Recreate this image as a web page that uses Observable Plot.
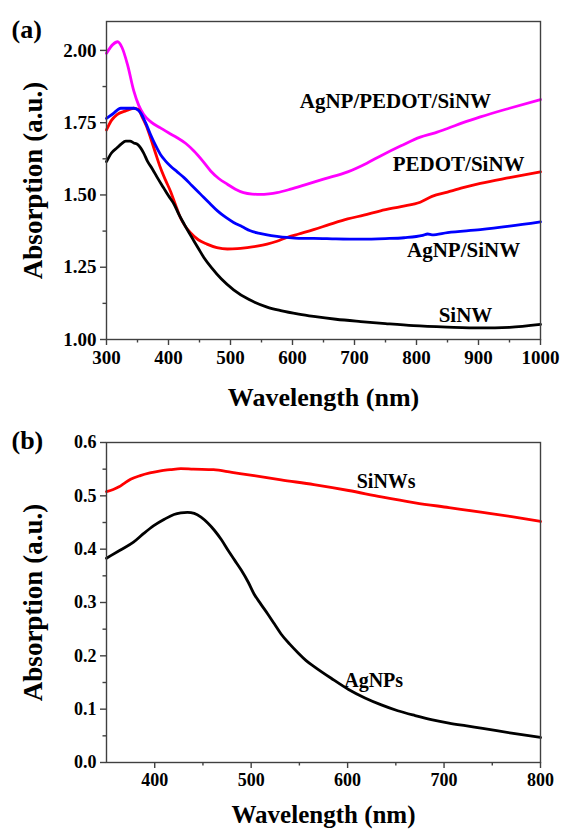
<!DOCTYPE html>
<html><head><meta charset="utf-8">
<script src="https://cdn.jsdelivr.net/npm/d3@7"></script>
<script src="https://cdn.jsdelivr.net/npm/@observablehq/plot@0.6"></script>
<style>
body{margin:0;background:#fff}
#chart{width:561px}
svg{display:block}
</style>
</head><body><div id="chart"></div>
<script>
// ---------- Panel (a) data ----------
const aMagentaX = [300,310,318,325,334,344,352,360,372,387,400,414,428,441,455,468,481,495,508,521,535,548,562,575,597,620,650,689,720,742,775,806,830,850,875,903,950,1000];
const aMagentaY = [1.99,2.02,2.03,2.01,1.95,1.86,1.81,1.778,1.752,1.732,1.715,1.698,1.678,1.652,1.618,1.583,1.557,1.537,1.52,1.508,1.503,1.502,1.504,1.508,1.52,1.535,1.555,1.58,1.61,1.635,1.67,1.70,1.715,1.73,1.75,1.77,1.80,1.83];

const aRedX = [300,308,317,330,344,352,357,364,371,379,387,395,403,411,419,427,435,448,462,478,495,511,527,543,559,575,591,610,634,660,689,715,742,775,806,825,850,875,903,950,1000];
const aRedY = [1.725,1.758,1.778,1.79,1.80,1.795,1.772,1.74,1.698,1.645,1.594,1.552,1.514,1.468,1.422,1.392,1.37,1.345,1.33,1.318,1.313,1.314,1.318,1.323,1.33,1.34,1.353,1.365,1.38,1.398,1.417,1.43,1.445,1.46,1.475,1.495,1.51,1.525,1.54,1.56,1.58];

const aBlueX = [300,310,323,335,344,350,355,363,371,379,387,395,403,414,425,438,452,466,479,492,505,519,532,545,559,575,591,610,634,670,710,750,780,810,818,825,850,903,950,1000];
const aBlueY = [1.765,1.78,1.80,1.80,1.80,1.795,1.784,1.75,1.709,1.672,1.64,1.618,1.60,1.58,1.56,1.532,1.502,1.472,1.445,1.423,1.405,1.39,1.376,1.368,1.362,1.357,1.353,1.35,1.35,1.348,1.347,1.349,1.352,1.36,1.365,1.362,1.37,1.38,1.392,1.407];

const aBlackX = [300,308,317,324,331,338,344,350,355,360,366,374,382,392,400,409,417,425,433,441,449,457,470,485,505,530,559,581,610,634,670,710,750,795,850,903,950,1000];
const aBlackY = [1.615,1.645,1.663,1.677,1.686,1.686,1.68,1.675,1.663,1.645,1.617,1.59,1.56,1.525,1.497,1.468,1.432,1.40,1.37,1.341,1.312,1.284,1.247,1.21,1.172,1.138,1.112,1.10,1.088,1.08,1.07,1.062,1.055,1.048,1.043,1.04,1.042,1.052];

const aSeriesNames = ["AgNP/PEDOT/SiNW", "PEDOT/SiNW", "AgNP/SiNW", "SiNW"];
const aLabelX = [766, 868, 876, 879];
const aLabelY = [1.824, 1.607, 1.307, 1.083];

const aXTicks = [300,400,500,600,700,800,900,1000];
const aXMinor = [350,450,550,650,750,850,950];
const aYTicks = [1.00,1.25,1.50,1.75,2.00];
const aYMinor = [1.125,1.375,1.625,1.875];

// ---------- Panel (b) data ----------
const bRedX = [350,357,363,368,375,385,395,406,416,427,440,461,480,503,531,565,601,635,670,705,740,770,800];
const bRedY = [0.508,0.512,0.517,0.523,0.531,0.538,0.543,0.547,0.549,0.551,0.550,0.549,0.544,0.538,0.53,0.521,0.51,0.498,0.487,0.478,0.469,0.461,0.452];

const bBlackX = [350,364,378,389,399,410,420,427,434,441,448,455,462,469,476,483,490,497,503,510,517,524,531,540,549,557,566,583,601,618,635,652,670,688,705,722,740,770,800];
const bBlackY = [0.383,0.398,0.413,0.43,0.444,0.456,0.465,0.468,0.469,0.467,0.46,0.449,0.435,0.418,0.398,0.379,0.36,0.338,0.316,0.297,0.279,0.26,0.241,0.222,0.205,0.191,0.179,0.158,0.137,0.121,0.108,0.097,0.088,0.08,0.074,0.069,0.064,0.055,0.047];

const bSeriesNames = ["SiNWs", "AgNPs"];
const bLabelX = [640, 627];
const bLabelY = [0.527, 0.154];

const bXTicks = [400,500,600,700,800];
const bXMinor = [450,550,650,750];
const bYTicks = [0.0,0.1,0.2,0.3,0.4,0.5,0.6];
const bYMinor = [0.05,0.15,0.25,0.35,0.45,0.55];

const yTitle = "Absorption (a.u.)";
const xTitle = "Wavelength (nm)";

// ---------- helpers ----------
const FONT = "'Liberation Serif','Times New Roman',Times,serif";
const AXC = "#404040";
const zip = (xs, ys, name) => xs.map((x, i) => ({x, y: ys[i], name}));

const aData = [
  ...zip(aMagentaX, aMagentaY, aSeriesNames[0]),
  ...zip(aRedX, aRedY, aSeriesNames[1]),
  ...zip(aBlueX, aBlueY, aSeriesNames[2]),
  ...zip(aBlackX, aBlackY, aSeriesNames[3])
];
const aLabels = aSeriesNames.map((t, i) => ({t, x: aLabelX[i], y: aLabelY[i]}));
const bData = [
  ...zip(bRedX, bRedY, bSeriesNames[0]),
  ...zip(bBlackX, bBlackY, bSeriesNames[1])
];
const bLabels = bSeriesNames.map((t, i) => ({t, x: bLabelX[i], y: bLabelY[i]}));

function panel({data, labels, names, colors, xDomain, yDomain, xTicks, xMinor, yTicks, yMinor, yFmt,
                height, mTop, mBottom, tickFont, labelFont, tag, tagDy, xTitleDy, titleFont}) {
  const T = {fontFamily: FONT, fontWeight: "bold", fill: "#000"};
  const svg = Plot.plot({
    width: 561, height,
    marginLeft: 106, marginRight: 21, marginTop: mTop, marginBottom: mBottom,
    style: {fontFamily: FONT, fontWeight: "bold", color: "#000", background: "#fff", overflow: "visible"},
    x: {domain: xDomain},
    y: {domain: yDomain},
    color: {domain: names, range: colors},
    marks: [
      Plot.line(data, {x: "x", y: "y", z: "name", stroke: "name", strokeWidth: 2.8, curve: "monotone-x"}),
      Plot.frame({stroke: AXC, strokeWidth: 1.4}),
      Plot.axisX(xTicks, {tickSize: 6, tickPadding: 5, stroke: AXC, strokeWidth: 1.4, fontSize: tickFont, tickFormat: d => String(d), label: null}),
      Plot.axisX(xMinor, {tickSize: 3.5, stroke: AXC, strokeWidth: 1.4, tickFormat: () => "", label: null}),
      Plot.axisY(yTicks, {tickSize: 6, tickPadding: 4, stroke: AXC, strokeWidth: 1.4, fontSize: tickFont, tickFormat: yFmt, label: null}),
      Plot.axisY(yMinor, {tickSize: 3.5, stroke: AXC, strokeWidth: 1.4, tickFormat: () => "", label: null}),
      Plot.text(labels, {...T, x: "x", y: "y", text: "t", fontSize: labelFont, textAnchor: "middle", lineAnchor: "middle"}),
      Plot.text([yTitle], {...T, frameAnchor: "left", rotate: -90, dx: -73, fontSize: 27, textAnchor: "middle", lineAnchor: "middle"}),
      Plot.text([xTitle], {...T, frameAnchor: "bottom", dy: xTitleDy, fontSize: titleFont, textAnchor: "middle", lineAnchor: "middle"}),
      Plot.text([tag], {...T, frameAnchor: "top-left", dx: -95, dy: tagDy, fontSize: 26, textAnchor: "start", lineAnchor: "middle"})
    ]
  });
  svg.querySelectorAll("g, text").forEach(el => {
    if (el.tagName.toLowerCase() === "text" || el.querySelector("text")) {
      el.style.setProperty("font-family", FONT, "important");
      el.style.setProperty("font-weight", "bold", "important");
    }
  });
  svg.querySelectorAll("text").forEach(el => {
    el.setAttribute("fill", "#000");
    el.removeAttribute("stroke");
    el.style.setProperty("stroke", "none", "important");
  });
  return svg;
}

const plotA = panel({
  data: aData, labels: aLabels, names: aSeriesNames, colors: ["#ff00ff", "#ff0000", "#0000ff", "#000000"],
  xDomain: [300, 1000], yDomain: [1.0, 2.1],
  xTicks: aXTicks, xMinor: aXMinor, yTicks: aYTicks, yMinor: aYMinor, yFmt: d3.format(".2f"),
  height: 415, mTop: 21, mBottom: 76, tickFont: 19, labelFont: 21, tag: "(a)", tagDy: 8, xTitleDy: 58, titleFont: 26
});
const plotB = panel({
  data: bData, labels: bLabels, names: bSeriesNames, colors: ["#ff0000", "#000000"],
  xDomain: [350, 800], yDomain: [0, 0.6],
  xTicks: bXTicks, xMinor: bXMinor, yTicks: bYTicks, yMinor: bYMinor, yFmt: d3.format(".1f"),
  height: 414, mTop: 27, mBottom: 67, tickFont: 18, labelFont: 20, tag: "(b)", tagDy: -2, xTitleDy: 52, titleFont: 25
});
document.getElementById("chart").append(plotA, plotB);
</script>
</body></html>
